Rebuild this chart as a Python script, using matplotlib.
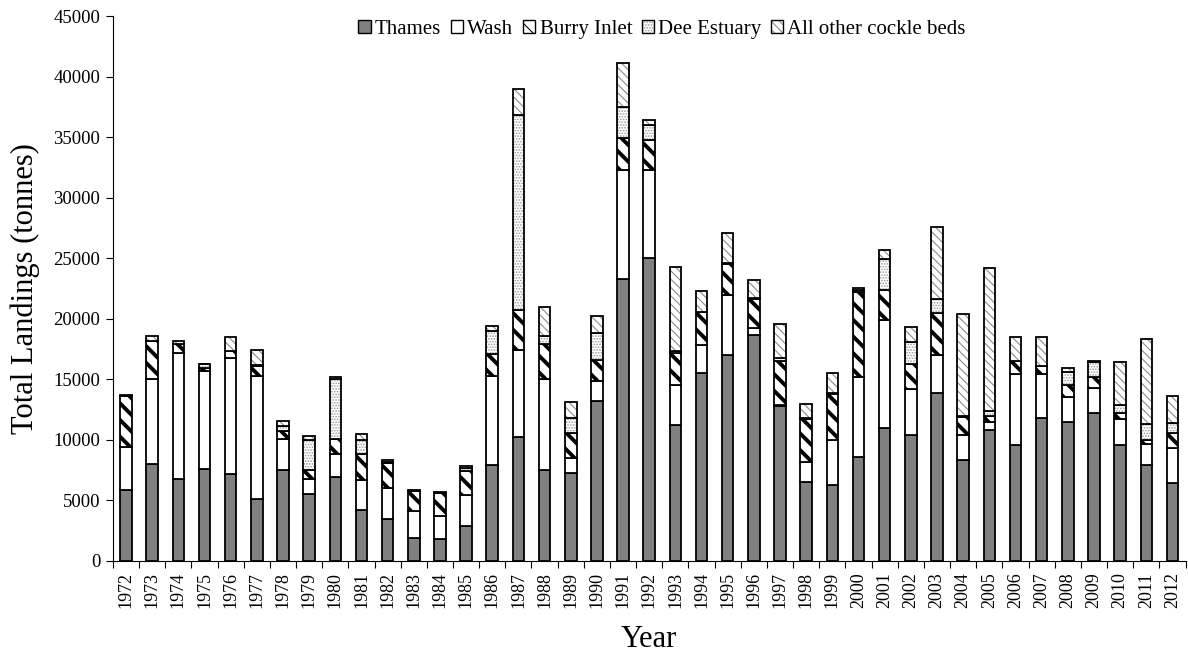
import matplotlib
matplotlib.use("Agg")
import matplotlib.pyplot as plt
from matplotlib.patches import Patch
import numpy as np

plt.rcParams['font.family'] = ['Liberation Serif', 'DejaVu Serif']

years = [str(y) for y in range(1972, 2013)]

# landings (tonnes) per bed
thames = [5900, 8000, 6800, 7600, 7200, 5100, 7500, 5550, 6950, 4250,
          3500, 1900, 1800, 2900, 7900, 10200, 7500, 7300, 13200, 23300,
          25000, 11200, 15500, 17000, 18700, 12800, 6500, 6300, 8600, 11000,
          10400, 13900, 8300, 10800, 9600, 11800, 11500, 12200, 9600, 7900,
          6400]
wash = [3550, 7000, 10400, 8050, 9600, 10200, 2550, 1200, 1850, 2450,
        2550, 2200, 1900, 2550, 7400, 7200, 7500, 1200, 1700, 9000,
        7300, 3300, 2300, 5000, 500, 100, 1650, 3700, 6600, 8900,
        3800, 3100, 2100, 700, 5800, 3600, 2000, 2100, 2100, 1800,
        2900]
burry = [4200, 3200, 700, 300, 500, 800, 650, 750, 1250, 2100,
         2050, 1650, 1900, 2000, 1800, 3300, 2900, 2100, 1700, 2600,
         2500, 2700, 2800, 2500, 2400, 3600, 3550, 3800, 7000, 2500,
         2100, 3500, 1500, 500, 1100, 700, 1000, 900, 500, 300,
         1300]
dee = [0, 0, 0, 300, 0, 100, 450, 2450, 4950, 1200,
       50, 0, 0, 200, 1900, 16100, 700, 1200, 2200, 2600,
       1200, 100, 0, 100, 100, 300, 100, 100, 200, 2500,
       1800, 1100, 100, 400, 0, 0, 1100, 1200, 700, 1300,
       800]
other = [50, 400, 300, 50, 1200, 1200, 400, 400, 200, 450,
         150, 80, 60, 200, 400, 2200, 2400, 1300, 1400, 3600,
         400, 7000, 1700, 2500, 1500, 2800, 1200, 1600, 100, 800,
         1200, 6000, 8400, 11800, 2000, 2400, 300, 100, 3500, 7000,
         2250]

series = [
    ("Thames", thames, dict(facecolor="#808080")),
    ("Wash", wash, dict(facecolor="white")),
    ("Burry Inlet", burry, dict(facecolor="white", hatch="\\\\", hcol="black", hlw=2.8)),
    ("Dee Estuary", dee, dict(facecolor="white", hatch="......", hcol="#9a9a9a", hlw=0.8)),
    ("All other cockle beds", other, dict(facecolor="white", hatch="\\\\\\\\", hcol="#8c8c8c", hlw=0.8)),
]

fig = plt.figure(figsize=(11.88, 6.62), dpi=100)
ax = fig.add_axes([0.095, 0.1526, 0.903, 0.8232])

x = np.arange(len(years))
width = 0.44
bottom = np.zeros(len(years))
handles = []
for name, vals, st in series:
    vals = np.array(vals, dtype=float)
    if "hatch" in st:
        plt.rcParams['hatch.linewidth'] = st["hlw"]
        hb = ax.bar(x, vals, width, bottom=bottom, facecolor=st["facecolor"],
                    edgecolor=st["hcol"], hatch=st["hatch"], linewidth=0)
        hp = Patch(facecolor=st["facecolor"], edgecolor=st["hcol"],
                   hatch=st["hatch"], linewidth=0)
        for p in list(hb) + [hp]:
            if hasattr(p, "set_hatch_linewidth"):
                p.set_hatch_linewidth(st["hlw"])
    ax.bar(x, vals, width, bottom=bottom, facecolor="none" if "hatch" in st else st["facecolor"],
           edgecolor="black", linewidth=1.3)
    op = Patch(facecolor="none" if "hatch" in st else st["facecolor"],
               edgecolor="black", linewidth=1.0)
    handles.append((hp, op) if "hatch" in st else op)
    bottom += vals

ax.set_xlim(-0.5, len(years) - 0.5)
ax.set_ylim(0, 45000)
ax.set_yticks(np.arange(0, 45001, 5000))
ax.set_xticks(x)
ax.set_xticklabels(years, rotation=90, fontsize=13)
ax.set_xticks(np.arange(-0.5, len(years), 1), minor=True)
ax.tick_params(axis="x", which="major", length=0, pad=8)
ax.tick_params(axis="x", which="minor", length=5, direction="out", width=0.8)
ax.tick_params(axis="y", labelsize=13.5, length=5, width=0.8, pad=4)
for s in ["top", "right"]:
    ax.spines[s].set_visible(False)
for s in ["left", "bottom"]:
    ax.spines[s].set_linewidth(0.8)

ax.set_ylabel("Total Landings (tonnes)", fontsize=22, labelpad=10)
ax.set_xlabel("Year", fontsize=22, labelpad=12)

ax.legend(handles, [s[0] for s in series], loc="upper center",
          bbox_to_anchor=(0.512, 1.027), ncol=5, frameon=False, fontsize=15,
          handlelength=0.6, handleheight=0.6, handletextpad=0.2,
          columnspacing=0.45)

fig.savefig("out.png", dpi=100)
